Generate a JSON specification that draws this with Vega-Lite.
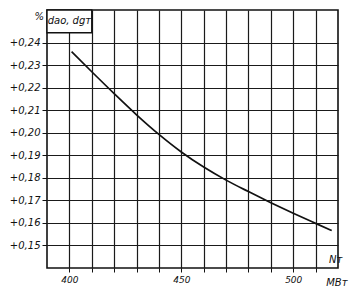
{
  "$schema": "https://vega.github.io/schema/vega-lite/v6.json",
  "width": 291,
  "height": 258,
  "padding": {"left": 47, "top": 10, "right": 11, "bottom": 23},
  "autosize": {"type": "none"},
  "background": "white",
  "config": {
    "view": {"stroke": "#111", "strokeWidth": 1.6},
    "font": "DejaVu Sans"
  },
  "datasets": {
    "curve": [
      {"p": 401, "v": 0.2360},
      {"p": 410, "v": 0.2271},
      {"p": 420, "v": 0.2174},
      {"p": 430, "v": 0.2080},
      {"p": 440, "v": 0.1993},
      {"p": 450, "v": 0.1915},
      {"p": 460, "v": 0.1848},
      {"p": 470, "v": 0.1790},
      {"p": 480, "v": 0.1739},
      {"p": 490, "v": 0.1690},
      {"p": 500, "v": 0.1643},
      {"p": 510, "v": 0.1598},
      {"p": 517.2, "v": 0.1566}
    ],
    "box": [{"x1": 390, "x2": 410, "y1": 0.2444, "y2": 0.2545}],
    "labels": [
      {"x": 400, "y": 0.2497, "t": "dao, dgт", "a": "center"},
      {"x": 386.5, "y": 0.2512, "t": "%", "a": "right"},
      {"x": 519, "y": 0.1434, "t": "Nт", "a": "right"},
      {"x": 519.5, "y": 0.1333, "t": "МВт", "a": "right"}
    ]
  },
  "layer": [
    {
      "data": {"name": "curve"},
      "mark": {"type": "line", "color": "#111", "strokeWidth": 1.7, "interpolate": "monotone"},
      "encoding": {
        "x": {
          "field": "p", "type": "quantitative",
          "scale": {"domain": [390, 520], "nice": false, "zero": false},
          "axis": {
            "values": [400, 410, 420, 430, 440, 450, 460, 470, 480, 490, 500, 510],
            "tickCount": 30,
            "labelExpr": "datum.value % 50 == 0 ? datum.label : ''",
            "labelOverlap": false,
            "format": "d",
            "title": null,
            "domain": false,
            "grid": true, "gridColor": "#1a1a1a", "gridWidth": 1.2, "gridOpacity": 1,
            "ticks": true, "tickSize": 4, "tickColor": "#111",
            "labelPadding": 3,
            "labelFont": "DejaVu Sans", "labelFontStyle": "italic", "labelFontSize": 9, "labelColor": "#111"
          }
        },
        "y": {
          "field": "v", "type": "quantitative",
          "scale": {"domain": [0.14, 0.2545], "nice": false, "zero": false},
          "axis": {
            "values": [0.15, 0.16, 0.17, 0.18, 0.19, 0.20, 0.21, 0.22, 0.23, 0.24],
            "tickCount": 30,
            "labelOverlap": false,
            "labelExpr": "'+0,' + format(round(datum.value * 100), '02d')",
            "title": null,
            "domain": false,
            "grid": true, "gridColor": "#1a1a1a", "gridWidth": 1.2, "gridOpacity": 1,
            "ticks": true, "tickSize": 5, "tickColor": "#111",
            "labelPadding": 2,
            "labelFont": "DejaVu Sans", "labelFontStyle": "italic", "labelFontSize": 10, "labelColor": "#111"
          }
        }
      }
    },
    {
      "data": {"name": "box"},
      "mark": {"type": "rect", "fill": "white", "stroke": "#111", "strokeWidth": 1.4},
      "encoding": {
        "x": {"field": "x1", "type": "quantitative"},
        "x2": {"field": "x2"},
        "y": {"field": "y1", "type": "quantitative"},
        "y2": {"field": "y2"}
      }
    },
    {
      "data": {"name": "labels"},
      "mark": {"type": "text", "font": "DejaVu Sans", "fontStyle": "italic", "fontSize": 10, "color": "#111", "baseline": "middle"},
      "encoding": {
        "x": {"field": "x", "type": "quantitative"},
        "y": {"field": "y", "type": "quantitative"},
        "text": {"field": "t"},
        "align": {"field": "a", "type": "nominal", "scale": null}
      }
    }
  ]
}
